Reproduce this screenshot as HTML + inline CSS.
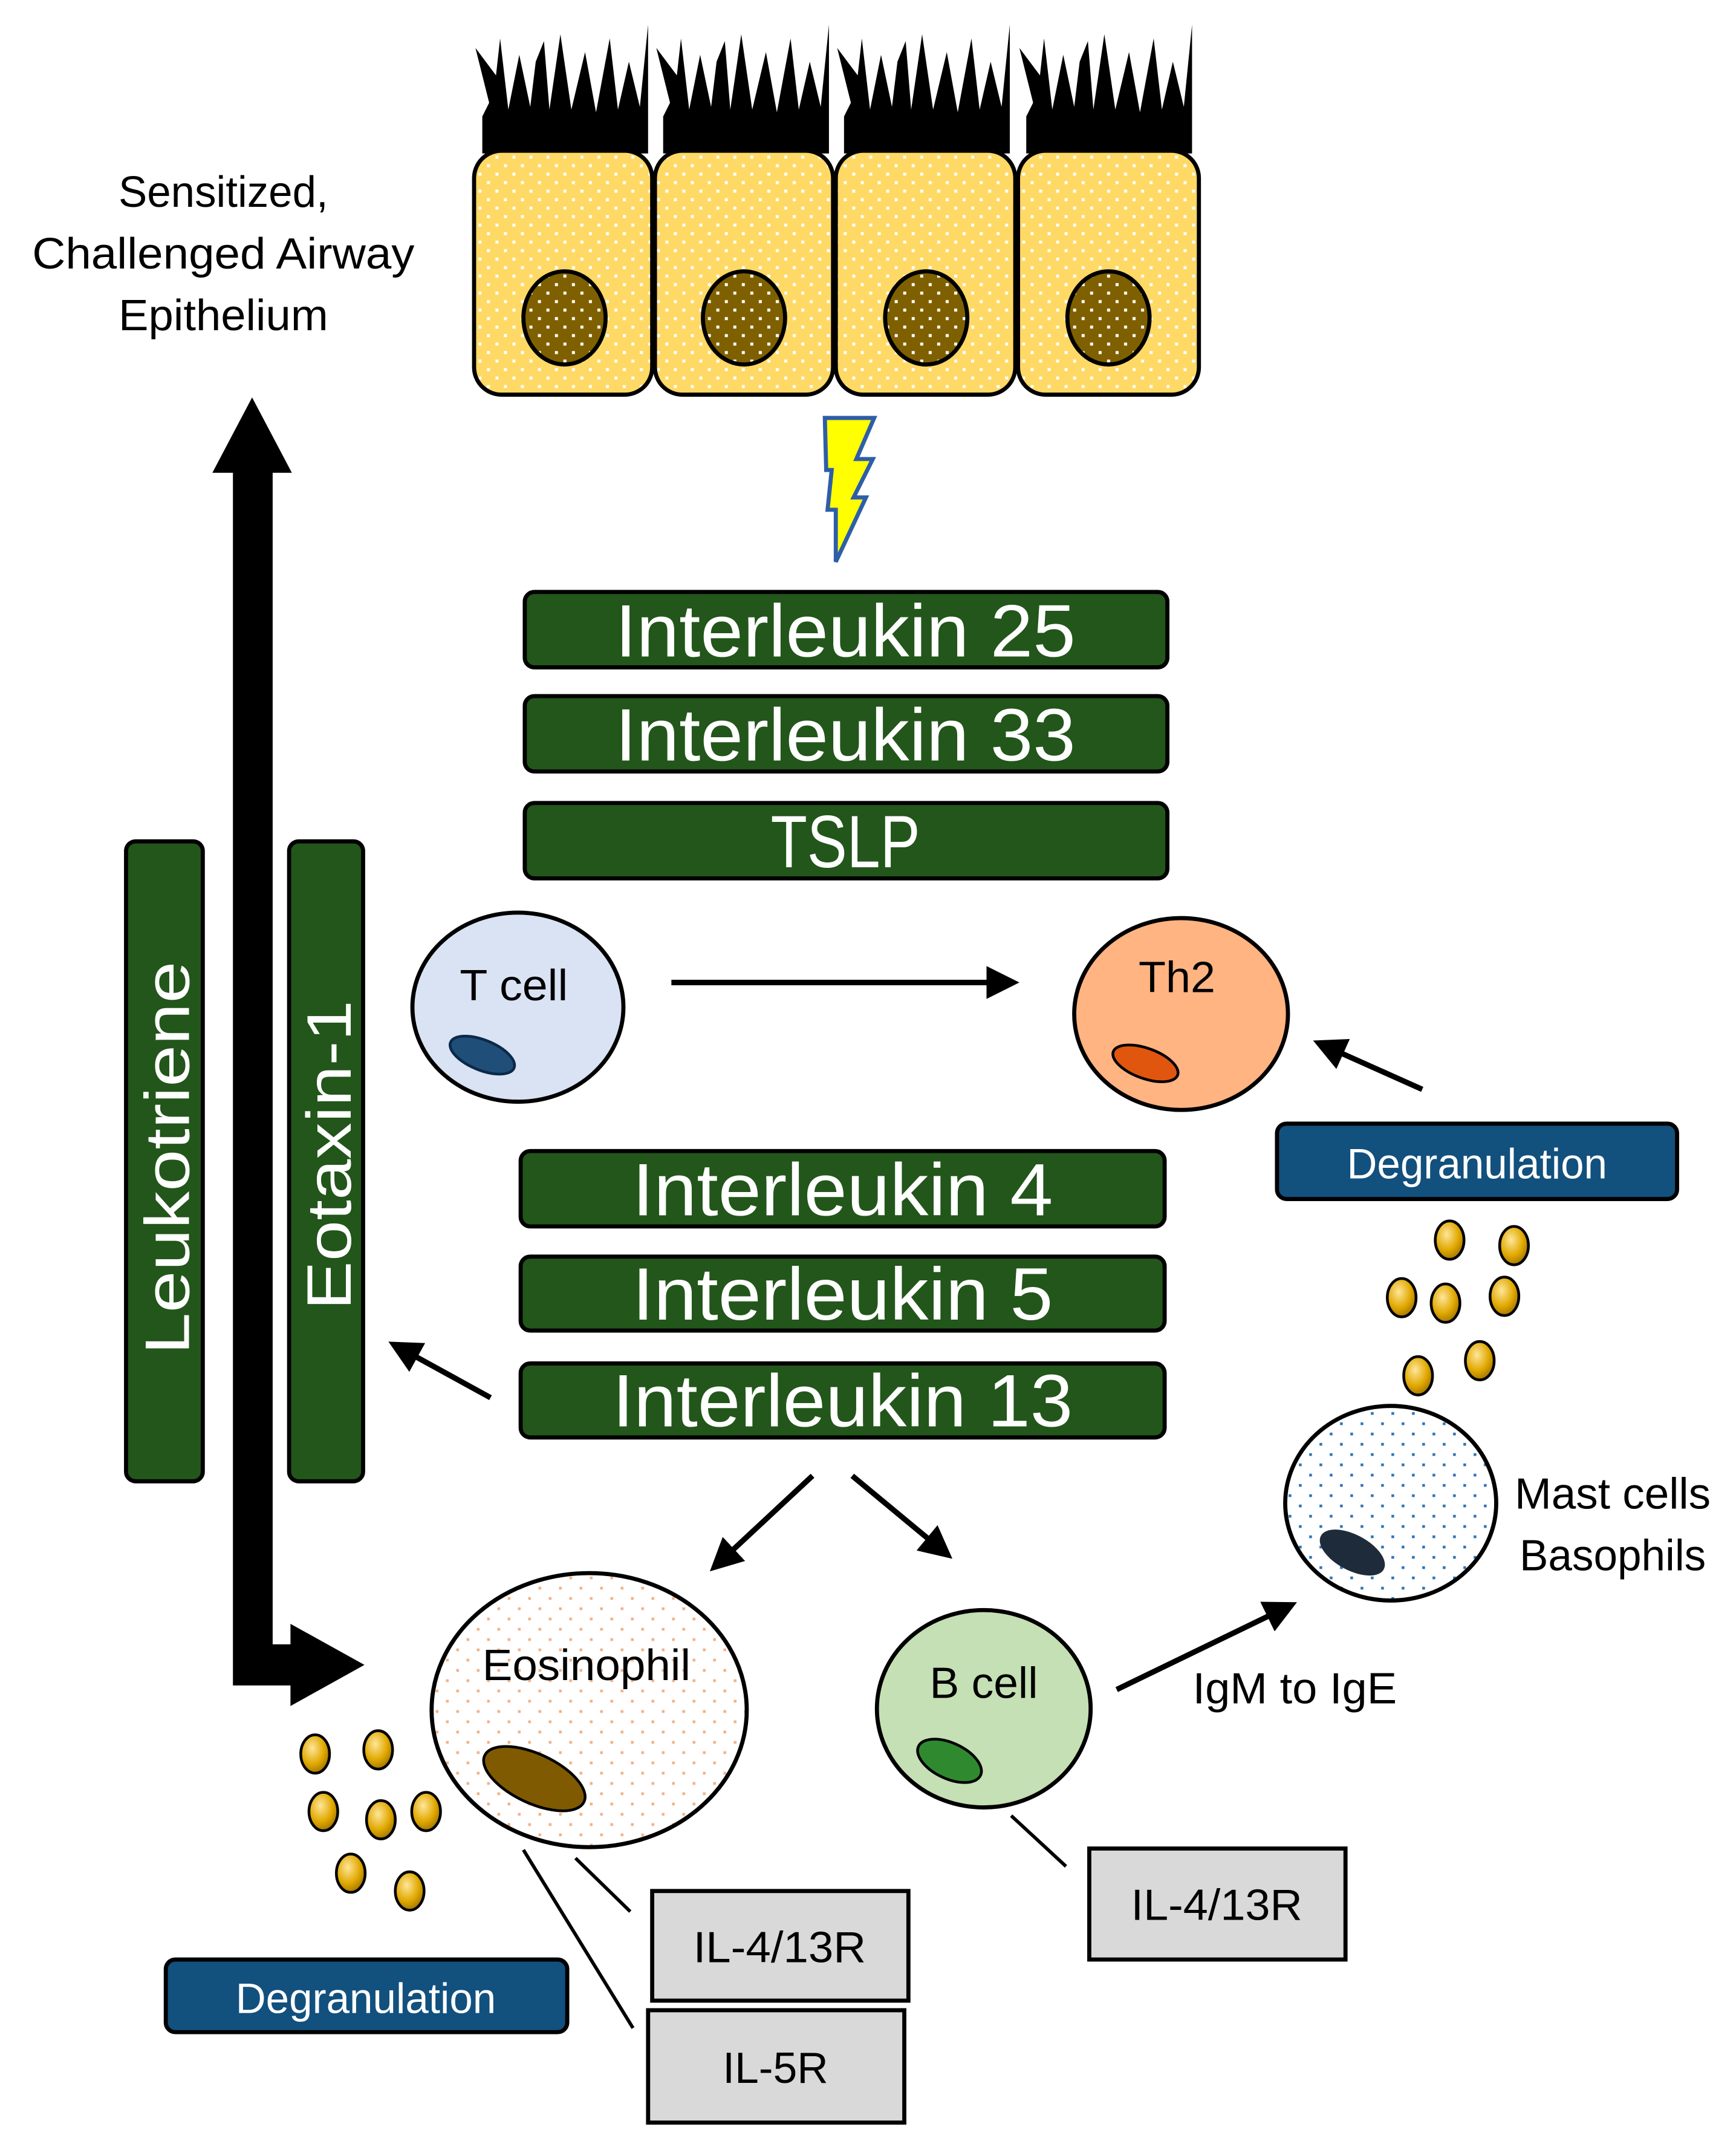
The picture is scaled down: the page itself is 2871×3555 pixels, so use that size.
<!DOCTYPE html>
<html><head><meta charset="utf-8"><style>
html,body{margin:0;padding:0;background:#fff;}
svg{display:block;}
text{font-family:"Liberation Sans",sans-serif;}
</style></head><body>
<svg width="2871" height="3555" viewBox="0 0 1267 1569" preserveAspectRatio="none" xmlns="http://www.w3.org/2000/svg">
<defs>
<pattern id="ydot" width="12.4" height="12.4" patternUnits="userSpaceOnUse">
<rect width="12.4" height="12.4" fill="#FFD966"/><rect x="2" y="2" width="2.2" height="2.2" fill="#fff"/><rect x="8.2" y="8.2" width="2.2" height="2.2" fill="#fff"/></pattern>
<pattern id="ndot" width="12.4" height="12.4" patternUnits="userSpaceOnUse">
<rect width="12.4" height="12.4" fill="#7F6000"/><rect x="2" y="2" width="2.2" height="2.2" fill="#fff"/><rect x="8.2" y="8.2" width="2.2" height="2.2" fill="#fff"/></pattern>
<pattern id="odot" width="15" height="15" patternUnits="userSpaceOnUse">
<rect width="15" height="15" fill="#fff"/><rect x="3" y="3" width="2" height="2" fill="#F4B183"/><rect x="10.5" y="10.5" width="2" height="2" fill="#F4B183"/></pattern>
<pattern id="bdot" width="15" height="15" patternUnits="userSpaceOnUse">
<rect width="15" height="15" fill="#fff"/><rect x="3" y="3" width="2" height="2" fill="#2E75B6"/><rect x="10.5" y="10.5" width="2" height="2" fill="#2E75B6"/></pattern>
<radialGradient id="gold" cx="0.4" cy="0.35" r="0.7"><stop offset="0" stop-color="#FFE699"/><stop offset="0.6" stop-color="#E0A800"/><stop offset="1" stop-color="#9C7000"/></radialGradient>
<marker id="ah" markerWidth="6" markerHeight="6" refX="5" refY="3" orient="auto" markerUnits="strokeWidth"><path d="M0,0 L6,3 L0,6 Z" fill="#000"/></marker>
<g id="cil"><path d="M5,112 L5,85 L10,75 L0,35 L15,55 L18,28 L24,80 L32,40 L40,78 L44,45 L50,30 L54,80 L62,25 L70,80 L80,38 L88,82 L98,28 L104,80 L112,45 L120,78 L126,18 L126,112 Z" fill="#000"/></g>
<g id="gr"><ellipse rx="10.5" ry="14" fill="url(#gold)" stroke="#000" stroke-width="2"/></g>
</defs>

<use href="#cil" x="347" y="0"/><use href="#cil" x="479" y="0"/><use href="#cil" x="611" y="0"/><use href="#cil" x="744" y="0"/>
<g stroke="#000" stroke-width="3">
<rect x="346" y="110" width="130" height="178" rx="20" fill="url(#ydot)"/>
<rect x="478" y="110" width="130" height="178" rx="20" fill="url(#ydot)"/>
<rect x="610" y="110" width="131" height="178" rx="20" fill="url(#ydot)"/>
<rect x="743" y="110" width="132" height="178" rx="20" fill="url(#ydot)"/>
<ellipse cx="412" cy="232" rx="30" ry="34" fill="url(#ndot)"/>
<ellipse cx="543" cy="232" rx="30" ry="34" fill="url(#ndot)"/>
<ellipse cx="676" cy="232" rx="30" ry="34" fill="url(#ndot)"/>
<ellipse cx="809" cy="232" rx="30" ry="34" fill="url(#ndot)"/>
</g>
<text x="163" y="151" font-size="32" text-anchor="middle" textLength="153" lengthAdjust="spacingAndGlyphs">Sensitized,</text>
<text x="163" y="196" font-size="32" text-anchor="middle" textLength="279" lengthAdjust="spacingAndGlyphs">Challenged Airway</text>
<text x="163" y="241" font-size="32" text-anchor="middle" textLength="153" lengthAdjust="spacingAndGlyphs">Epithelium</text>

<polygon points="602,305 638,305 625,335 637,335 623,363 632,363 610,410 610,372 604,372 607,343 603,343" fill="#FFFF00" stroke="#2E5EA8" stroke-width="3"/>

<g fill="#22561A" stroke="#000" stroke-width="3">
<rect x="383" y="432" width="469" height="55" rx="7"/>
<rect x="383" y="508" width="469" height="55" rx="7"/>
<rect x="383" y="586" width="469" height="55" rx="7"/>
<rect x="380" y="840" width="470" height="55" rx="7"/>
<rect x="380" y="917" width="470" height="54" rx="7"/>
<rect x="380" y="995" width="470" height="54" rx="7"/>
<rect x="92" y="614" width="56" height="467" rx="7"/>
<rect x="211" y="614" width="54" height="467" rx="7"/>
</g>
<g fill="#fff" font-size="54" text-anchor="middle" lengthAdjust="spacingAndGlyphs">
<text x="617" y="479" textLength="336" lengthAdjust="spacingAndGlyphs">Interleukin 25</text>
<text x="617" y="555" textLength="336" lengthAdjust="spacingAndGlyphs">Interleukin 33</text>
<text x="617" y="633" textLength="109" lengthAdjust="spacingAndGlyphs">TSLP</text>
<text x="615" y="887" textLength="307" lengthAdjust="spacingAndGlyphs">Interleukin 4</text>
<text x="615" y="963" textLength="307" lengthAdjust="spacingAndGlyphs">Interleukin 5</text>
<text x="615" y="1041" textLength="336" lengthAdjust="spacingAndGlyphs">Interleukin 13</text>
<text transform="translate(138,845) rotate(-90)" font-size="46" textLength="287" lengthAdjust="spacingAndGlyphs">Leukotriene</text>
<text transform="translate(256,843) rotate(-90)" font-size="46" textLength="226" lengthAdjust="spacingAndGlyphs">Eotaxin-1</text>
</g>

<path d="M170,345 L155,345 L184,290 L213,345 L199,345 L199,1200 L212,1200 L212,1185 L266,1215 L212,1245 L212,1230 L170,1230 Z" fill="#000"/>

<ellipse cx="378" cy="735" rx="77" ry="69" fill="#DAE3F3" stroke="#000" stroke-width="3"/>
<ellipse cx="352" cy="770" rx="25" ry="11" transform="rotate(22 352 770)" fill="#1F4E79" stroke="#0a2a4a" stroke-width="2"/>
<text x="375" y="730" font-size="32" text-anchor="middle" textLength="79" lengthAdjust="spacingAndGlyphs">T cell</text>
<ellipse cx="862" cy="740" rx="78" ry="70" fill="#FFB482" stroke="#000" stroke-width="3"/>
<ellipse cx="836" cy="776" rx="25" ry="11" transform="rotate(20 836 776)" fill="#E0560E" stroke="#000" stroke-width="2"/>
<text x="859" y="724" font-size="32" text-anchor="middle" textLength="56" lengthAdjust="spacingAndGlyphs">Th2</text>

<g stroke="#000" stroke-width="4" fill="none">
<line x1="490" y1="717" x2="740" y2="717" marker-end="url(#ah)"/>
<line x1="1038" y1="795" x2="962" y2="761" marker-end="url(#ah)"/>
<line x1="358" y1="1020" x2="287" y2="981" marker-end="url(#ah)"/>
<line x1="593" y1="1077" x2="521" y2="1144" marker-end="url(#ah)"/>
<line x1="622" y1="1077" x2="692" y2="1135" marker-end="url(#ah)"/>
<line x1="815" y1="1233" x2="943" y2="1171" marker-end="url(#ah)"/>
</g>

<rect x="932" y="820" width="292" height="55" rx="7" fill="#12507E" stroke="#000" stroke-width="3"/>
<text x="1078" y="860" font-size="31" fill="#fff" text-anchor="middle" textLength="190" lengthAdjust="spacingAndGlyphs">Degranulation</text>
<rect x="121" y="1430" width="293" height="53" rx="7" fill="#12507E" stroke="#000" stroke-width="3"/>
<text x="267" y="1469" font-size="31" fill="#fff" text-anchor="middle" textLength="190" lengthAdjust="spacingAndGlyphs">Degranulation</text>

<use href="#gr" x="1058" y="905"/><use href="#gr" x="1105" y="909"/><use href="#gr" x="1023" y="947"/><use href="#gr" x="1055" y="951"/><use href="#gr" x="1098" y="946"/><use href="#gr" x="1035" y="1004"/><use href="#gr" x="1080" y="993"/>
<use href="#gr" x="230" y="1280"/><use href="#gr" x="276" y="1277"/><use href="#gr" x="236" y="1322"/><use href="#gr" x="278" y="1328"/><use href="#gr" x="311" y="1322"/><use href="#gr" x="256" y="1367"/><use href="#gr" x="299" y="1380"/>

<ellipse cx="1015" cy="1097" rx="77" ry="71" fill="url(#bdot)" stroke="#000" stroke-width="3"/>
<ellipse cx="987" cy="1133" rx="26" ry="13" transform="rotate(28 987 1133)" fill="#1E2B3A"/>
<text x="1177" y="1101" font-size="32" text-anchor="middle" textLength="143" lengthAdjust="spacingAndGlyphs">Mast cells</text>
<text x="1177" y="1146" font-size="32" text-anchor="middle" textLength="136" lengthAdjust="spacingAndGlyphs">Basophils</text>

<ellipse cx="430" cy="1248" rx="115" ry="100" fill="url(#odot)" stroke="#000" stroke-width="3"/>
<ellipse cx="390" cy="1298" rx="40" ry="18" transform="rotate(25 390 1298)" fill="#7F5A00" stroke="#000" stroke-width="2"/>
<text x="428" y="1226" font-size="32" text-anchor="middle" textLength="152" lengthAdjust="spacingAndGlyphs">Eosinophil</text>

<ellipse cx="718" cy="1247" rx="78" ry="72" fill="#C5E0B4" stroke="#000" stroke-width="3"/>
<ellipse cx="693" cy="1285" rx="25" ry="13" transform="rotate(25 693 1285)" fill="#2F8A2F" stroke="#000" stroke-width="2"/>
<text x="718" y="1239" font-size="32" text-anchor="middle" textLength="79" lengthAdjust="spacingAndGlyphs">B cell</text>
<text x="945" y="1243" font-size="32" text-anchor="middle" textLength="149" lengthAdjust="spacingAndGlyphs">IgM to IgE</text>

<g stroke="#000" stroke-width="2.5">
<line x1="382" y1="1350" x2="462" y2="1480"/>
<line x1="420" y1="1356" x2="460" y2="1395"/>
<line x1="738" y1="1325" x2="778" y2="1362"/>
</g>
<g fill="#D9D9D9" stroke="#000" stroke-width="3">
<rect x="476" y="1380" width="187" height="80"/>
<rect x="473" y="1467" width="187" height="82"/>
<rect x="795" y="1349" width="187" height="81"/>
</g>
<g font-size="32" text-anchor="middle">
<text x="569" y="1432" textLength="126" lengthAdjust="spacingAndGlyphs">IL-4/13R</text>
<text x="566" y="1520" textLength="77" lengthAdjust="spacingAndGlyphs">IL-5R</text>
<text x="888" y="1401" textLength="125" lengthAdjust="spacingAndGlyphs">IL-4/13R</text>
</g>
</svg>
</body></html>
